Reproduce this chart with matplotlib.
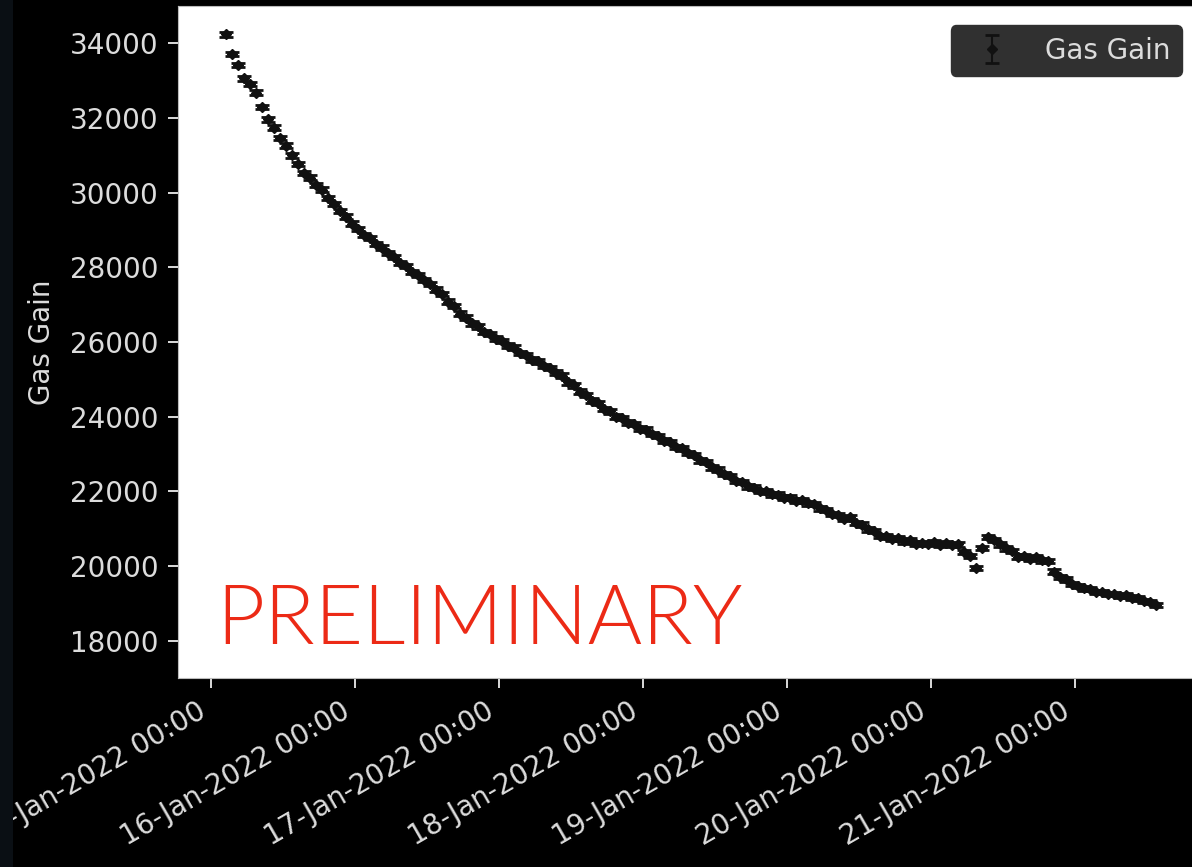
import matplotlib
matplotlib.use("Agg")
import matplotlib.dates as mdates
import matplotlib.pyplot as plt
import pandas as pd
from matplotlib.patches import Rectangle

# hourly gas gain readings, first one at 15-Jan-2022 02:30
start_time = "2022-01-15 02:30"
gas_gain = [
    34240, 33720, 33420, 33060, 32910, 32680, 32300, 31960, 31740, 31470,
    31260, 31000, 30770, 30530, 30400, 30210, 30080, 29860, 29700, 29510,
    29360, 29170, 29020, 28870, 28790, 28630, 28530, 28380, 28280, 28110,
    28030, 27880, 27800, 27660, 27560, 27400, 27280, 27080, 26970, 26760,
    26650, 26500, 26420, 26270, 26220, 26090, 26030, 25900, 25850, 25700,
    25650, 25530, 25480, 25360, 25310, 25180, 25100, 24920, 24840, 24670,
    24580, 24430, 24360, 24210, 24140, 24000, 23960, 23840, 23810, 23680,
    23650, 23530, 23480, 23360, 23320, 23190, 23150, 23020, 22970, 22830,
    22780, 22640, 22580, 22460, 22410, 22280, 22250, 22130, 22100, 22010,
    22000, 21920, 21910, 21830, 21830, 21750, 21760, 21680, 21660, 21540,
    21500, 21390, 21370, 21270, 21310, 21150, 21110, 20980, 20940, 20810,
    20790, 20720, 20740, 20660, 20700, 20600, 20620, 20590, 20640, 20570,
    20620, 20560, 20580, 20380, 20270, 19950, 20480, 20780, 20690, 20580,
    20470, 20400, 20250, 20260, 20190, 20230, 20150, 20130, 19850, 19700,
    19640, 19520, 19460, 19400, 19380, 19310, 19300, 19250, 19250, 19200,
    19210, 19150, 19130, 19060, 19030, 18960,
]
gain_err = [60] * len(gas_gain)

times = pd.date_range(start_time, periods=len(gas_gain), freq="1h")

fig = plt.figure(figsize=(11.92, 8.67), dpi=100, facecolor="black")
fig.patches.append(Rectangle((0, 0), 0.011, 1, transform=fig.transFigure,
                             facecolor="#0a0f14", edgecolor="none", zorder=0))
ax = fig.add_axes([0.1493, 0.218, 0.8583, 0.7751])
ax.set_facecolor("white")

ax.errorbar(times, gas_gain, yerr=gain_err, fmt="D", color="#111111", ms=5,
            elinewidth=1.5, capsize=5, capthick=2, label="Gas Gain")

ax.set_xlim(pd.Timestamp("2022-01-14 18:30"), pd.Timestamp("2022-01-21 21:00"))
ax.set_ylim(17000, 35000)

ax.xaxis.set_major_locator(mdates.DayLocator())
ax.xaxis.set_major_formatter(mdates.DateFormatter("%d-%b-%Y %H:%M"))
plt.setp(ax.get_xticklabels(), rotation=30, ha="right")

ax.tick_params(colors="white", labelcolor="#dcdcdc", labelsize=20, length=7,
               width=1.2, pad=7)
ax.set_ylabel("Gas Gain", color="#dcdcdc", fontsize=20, labelpad=10)
for sp in ax.spines.values():
    sp.set_color("#bbbbbb")

leg = ax.legend(loc="upper right", fontsize=20, facecolor="#303030",
                edgecolor="#303030", framealpha=1, borderaxespad=0.7,
                handlelength=2.2)
for t in leg.get_texts():
    t.set_color("#dcdcdc")

ax.text(0.037, 0.05, "PRELIMINARY", transform=ax.transAxes, color="#ec2a16",
        fontsize=60, family="Lato", fontweight=300, va="baseline")

fig.savefig("out.png", dpi=100, facecolor=fig.get_facecolor())
